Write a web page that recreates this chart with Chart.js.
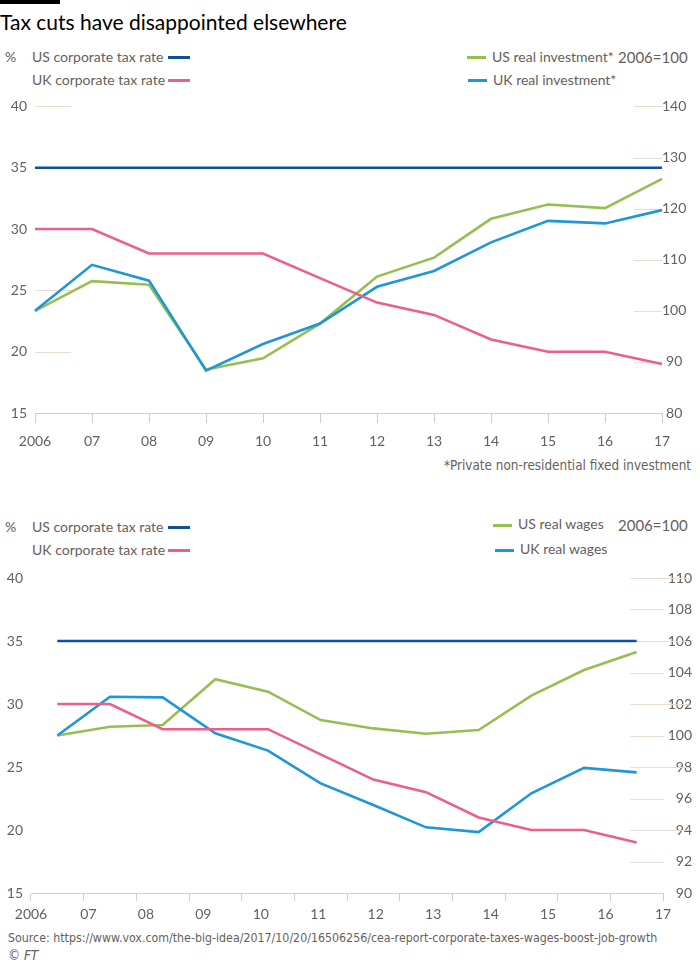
<!DOCTYPE html>
<html><head><meta charset="utf-8">
<script src="https://cdn.jsdelivr.net/npm/chart.js"></script>
<style>
html,body{margin:0;padding:0;background:#fff;}
body{width:700px;height:969px;position:relative;overflow:hidden;font-family:Lato,"Open Sans",sans-serif;color:#66605c;}
.a{position:absolute;white-space:nowrap;line-height:16px;font-size:14px;}
.sw{position:absolute;height:3px;}
.bar{position:absolute;left:0;top:0;width:60px;height:4px;background:#000;}
.title{position:absolute;left:0;top:9px;font-size:21px;line-height:26px;color:#000;white-space:nowrap;}
.note{font-family:"Liberation Sans Narrow","DejaVu Sans Condensed",sans-serif;font-size:13.4px;}
.src{font-size:12.3px;}
.idx{font-size:15px;}
canvas{position:absolute;left:0;}
</style></head>
<body>
<div class="bar"></div>
<div class="title">Tax cuts have disappointed elsewhere</div>

<div class="a" style="left:5px;top:49px">%</div>
<div class="a" style="left:32px;top:49px">US corporate tax rate</div>
<div class="sw" style="left:168px;top:56px;width:22px;background:#0f509b"></div>
<div class="a" style="left:32px;top:72px">UK corporate tax rate</div>
<div class="sw" style="left:168px;top:79px;width:22px;background:#eb5f8c"></div>
<div class="sw" style="left:467px;top:56px;width:19px;background:#96bf50"></div>
<div class="a" style="left:492px;top:49px">US real investment*</div>
<div class="a idx" style="left:618px;top:49px">2006=100</div>
<div class="sw" style="left:468px;top:79px;width:19px;background:#1e96d7"></div>
<div class="a" style="left:493px;top:72px">UK real investment*</div>
<canvas id="c1" width="700" height="360" style="top:90px;width:700px;height:360px"></canvas>
<div class="a note" style="right:9px;top:458px">*Private non-residential fixed investment</div>

<div class="a" style="left:5px;top:519px">%</div>
<div class="a" style="left:32px;top:519px">US corporate tax rate</div>
<div class="sw" style="left:168px;top:526px;width:22px;background:#0f509b"></div>
<div class="a" style="left:32px;top:542px">UK corporate tax rate</div>
<div class="sw" style="left:168px;top:549px;width:22px;background:#eb5f8c"></div>
<div class="sw" style="left:493px;top:524px;width:19px;background:#96bf50"></div>
<div class="a" style="left:518px;top:516px">US real wages</div>
<div class="a idx" style="left:618px;top:517px">2006=100</div>
<div class="sw" style="left:495px;top:549px;width:19px;background:#1e96d7"></div>
<div class="a" style="left:520px;top:541px">UK real wages</div>
<canvas id="c2" width="700" height="370" style="top:560px;width:700px;height:370px"></canvas>
<div class="a note src" style="left:8px;top:930px">Source: https://www.vox.com/the-big-idea/2017/10/20/16506256/cea-report-corporate-taxes-wages-boost-job-growth</div>
<div class="a note" style="left:8px;top:948px">© <i>FT</i></div>

<script>
const years = ['2006','07','08','09','10','11','12','13','14','15','16','17'];
const usTax = [35,35,35,35,35,35,35,35,35,35,35,35];
const ukTax = [30,30,28,28,28,26,24,23,21,20,20,19];
const usInvest = [100,105.8,105.1,88.5,90.7,97.5,106.7,110.4,118,120.8,120.1,125.8];
const ukInvest = [100,109,105.9,88.3,93.5,97.5,104.7,107.8,113.4,117.6,117.1,119.7];
const usWages = [100,100.56,100.67,103.57,102.78,100.98,100.45,100.11,100.35,102.53,104.16,105.3];
const ukWages = [100,102.46,102.42,100.14,99.04,96.96,95.59,94.17,93.87,96.33,97.94,97.66];
const taxTicks = [15,20,25,30,35,40];
const investTicks = [80,90,100,110,120,130,140];
const wageTicks = [90,92,94,96,98,100,102,104,106,108,110];

const C = {usTax:'#0f509b', ukTax:'#eb5f8c', us:'#96bf50', uk:'#1e96d7'};
const GREY = '#66605c', STUB = '#e8ddd3', AXIS = '#d6ccc3';
const FONT = {family:'Lato, "Open Sans", sans-serif', size:14};

const stubs = {
  id:'stubs',
  beforeDatasetsDraw(chart, args, opts){
    const {ctx, chartArea:ca} = chart;
    ctx.save(); ctx.strokeStyle = STUB; ctx.lineWidth = 1;
    opts.list.forEach(([id, a, b]) => {
      const s = chart.scales[id];
      s.ticks.forEach(t => {
        if (t.value === s.min) return;
        const y = Math.round(s.getPixelForValue(t.value)) + 0.5;
        const x0 = a < 0 ? ca.right + a : ca.left + a;
        const x1 = a < 0 ? ca.right + b : ca.left + b;
        ctx.beginPath(); ctx.moveTo(x0, y); ctx.lineTo(x1, y); ctx.stroke();
      });
    });
    ctx.restore();
  }
};

function ds(label, data, color, axis){
  return {label, data, borderColor:color, backgroundColor:color, borderWidth:2.6,
    pointRadius:0, tension:0, yAxisID:axis, fill:false};
}
function yAxis(ticks, pos, width, cross, pad){
  return {
    type:'linear', position:pos, min:ticks[0], max:ticks[ticks.length-1],
    afterBuildTicks: s => { s.ticks = ticks.map(v => ({value:v})); },
    grid:{display:false, drawTicks:false}, border:{display:false},
    ticks:{color:GREY, font:FONT, padding:pad, crossAlign:cross},
    afterFit: s => { s.width = width; }
  };
}

new Chart(document.getElementById('c1'), {
  type:'line',
  data:{labels:years, datasets:[
    ds('US corporate tax rate', usTax, C.usTax, 'y'),
    ds('UK corporate tax rate', ukTax, C.ukTax, 'y'),
    ds('UK real investment*', ukInvest, C.uk, 'y2'),
    ds('US real investment*', usInvest, C.us, 'y2')
  ]},
  options:{
    responsive:false, animation:false, events:[],
    layout:{padding:{top:13, left:0, right:0, bottom:0}},
    plugins:{legend:{display:false}, tooltip:{enabled:false},
      stubs:{list:[['y',0,36],['y2',-28,0]]}},
    scales:{
      x:{type:'category', offset:false,
        grid:{display:true, drawOnChartArea:false, drawTicks:true, tickLength:10, color:AXIS},
        border:{display:true, color:AXIS, width:1},
        ticks:{color:GREY, font:FONT, padding:10, autoSkip:false, maxRotation:0},
        afterFit: s => { s.height = 37; }},
      y: yAxis(taxTicks, 'left', 35, 'near', 8),
      y2: yAxis(investTicks, 'right', 38, 'center', 0)
    }
  },
  plugins:[stubs]
});

new Chart(document.getElementById('c2'), {
  type:'line',
  data:{labels:years, datasets:[
    ds('US corporate tax rate', usTax, C.usTax, 'y'),
    ds('UK corporate tax rate', ukTax, C.ukTax, 'y'),
    ds('UK real wages', ukWages, C.uk, 'y2'),
    ds('US real wages', usWages, C.us, 'y2')
  ]},
  options:{
    responsive:false, animation:false, events:[],
    layout:{padding:{top:18, left:0, right:8, bottom:0}},
    plugins:{legend:{display:false}, tooltip:{enabled:false},
      stubs:{list:[['y',-1,26],['y2',-33,1]]}},
    scales:{
      x:{type:'category', offset:true,
        grid:{display:true, offset:true, drawOnChartArea:false, drawTicks:true, tickLength:8, color:AXIS},
        border:{display:true, color:AXIS, width:1},
        ticks:{display:false},
        afterFit: s => { s.height = 8; }},
      xl:{type:'category', labels:years, offset:false, position:'bottom',
        grid:{display:false, drawTicks:false}, border:{display:false},
        ticks:{color:GREY, font:FONT, padding:5, autoSkip:false, maxRotation:0},
        afterFit: s => { s.height = 29; }},
      y: yAxis(taxTicks, 'left', 31, 'near', 8),
      y2: yAxis(wageTicks, 'right', 29, 'far', 0)
    }
  },
  plugins:[stubs]
});
</script>
</body></html>
